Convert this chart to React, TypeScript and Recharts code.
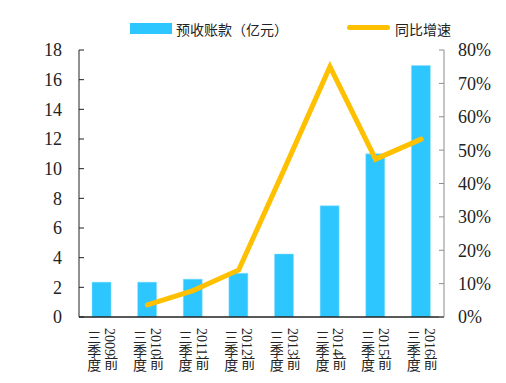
import { ComposedChart, Bar, Line, XAxis, YAxis } from 'recharts';

// 预收账款（亿元） and 同比增速 (%), 前三季度 of each year
const years = ['2009', '2010', '2011', '2012', '2013', '2014', '2015', '2016'];
const advanceReceipts = [2.35, 2.35, 2.55, 2.95, 4.25, 7.5, 11.0, 16.95];
const yoyGrowth: (number | null)[] = [null, 3.6, 7.9, 14.1, 44.3, 75.0, 47.3, 53.3];
const leftTicks = [0, 2, 4, 6, 8, 10, 12, 14, 16, 18];
const rightTicks = [0, 10, 20, 30, 40, 50, 60, 70, 80];

const data = years.map((y, i) => ({
  name: y + '前三季度',
  receipts: advanceReceipts[i],
  growth: yoyGrowth[i],
}));

const BAR_COLOR = '#2DC6FF';
const LINE_COLOR = '#FFC000';
const SERIF = '"Liberation Serif", "Times New Roman", serif';
const CJK = '"Liberation Serif", "Noto Sans CJK SC", serif';

function VerticalTick(props: any) {
  const { x, payload } = props;
  const year = payload.value.replace('前三季度', '');
  return (
    <g fontFamily={CJK} fontSize={14} fill="#222">
      <text x={x + 8} y={328} style={{ writingMode: 'vertical-rl' }}>
        {year + '前'}
      </text>
      <text x={x - 9} y={330} style={{ writingMode: 'vertical-rl' }}>
        三季度
      </text>
    </g>
  );
}

function TopLegend() {
  return (
    <div style={{ position: 'absolute', left: 0, top: 0, width: 506, height: 40, fontFamily: CJK, fontSize: 14, color: '#222' }}>
      <div style={{ position: 'absolute', left: 130, top: 23, width: 42, height: 11, background: BAR_COLOR }} />
      <div style={{ position: 'absolute', left: 176, top: 19, whiteSpace: 'nowrap' }}>预收账款（亿元）</div>
      <div style={{ position: 'absolute', left: 347, top: 25, width: 43, height: 5, borderRadius: 3, background: LINE_COLOR }} />
      <div style={{ position: 'absolute', left: 395, top: 19, whiteSpace: 'nowrap' }}>同比增速</div>
    </div>
  );
}

export default function App() {
  return (
    <div style={{ position: 'absolute', left: 0, top: 0, width: 506, height: 383, background: '#fff' }}>
      <ComposedChart
        width={506}
        height={383}
        data={data}
        margin={{ top: 50, right: 0, bottom: 0, left: 0 }}
      >
        <XAxis
          dataKey="name"
          height={66}
          tickLine={false}
          axisLine={{ stroke: '#222', strokeWidth: 1.5 }}
          tick={<VerticalTick />}
          interval={0}
        />
        <YAxis
          yAxisId="left"
          width={79}
          domain={[0, 18]}
          ticks={leftTicks}
          interval={0}
          tickSize={-5}
          tickMargin={22}
          axisLine={{ stroke: '#222' }}
          tickLine={{ stroke: '#222' }}
          tick={{ fontSize: 18, fill: '#222', fontFamily: SERIF }}
        />
        <YAxis
          yAxisId="right"
          orientation="right"
          width={62}
          domain={[0, 80]}
          ticks={rightTicks}
          interval={0}
          tickSize={-5}
          tickMargin={19}
          tickFormatter={(v: number) => `${v}%`}
          axisLine={{ stroke: '#8c8c8c' }}
          tickLine={{ stroke: '#8c8c8c' }}
          tick={{ fontSize: 18, fill: '#222', fontFamily: SERIF }}
        />
        <Bar
          yAxisId="left"
          dataKey="receipts"
          fill={BAR_COLOR}
          stroke="#8fe0ff"
          strokeWidth={0.5}
          barSize={19}
          isAnimationActive={false}
        />
        <Line
          yAxisId="right"
          dataKey="growth"
          stroke={LINE_COLOR}
          strokeWidth={5}
          dot={false}
          activeDot={false}
          strokeLinecap="round"
          isAnimationActive={false}
        />
      </ComposedChart>
      <TopLegend />
    </div>
  );
}
